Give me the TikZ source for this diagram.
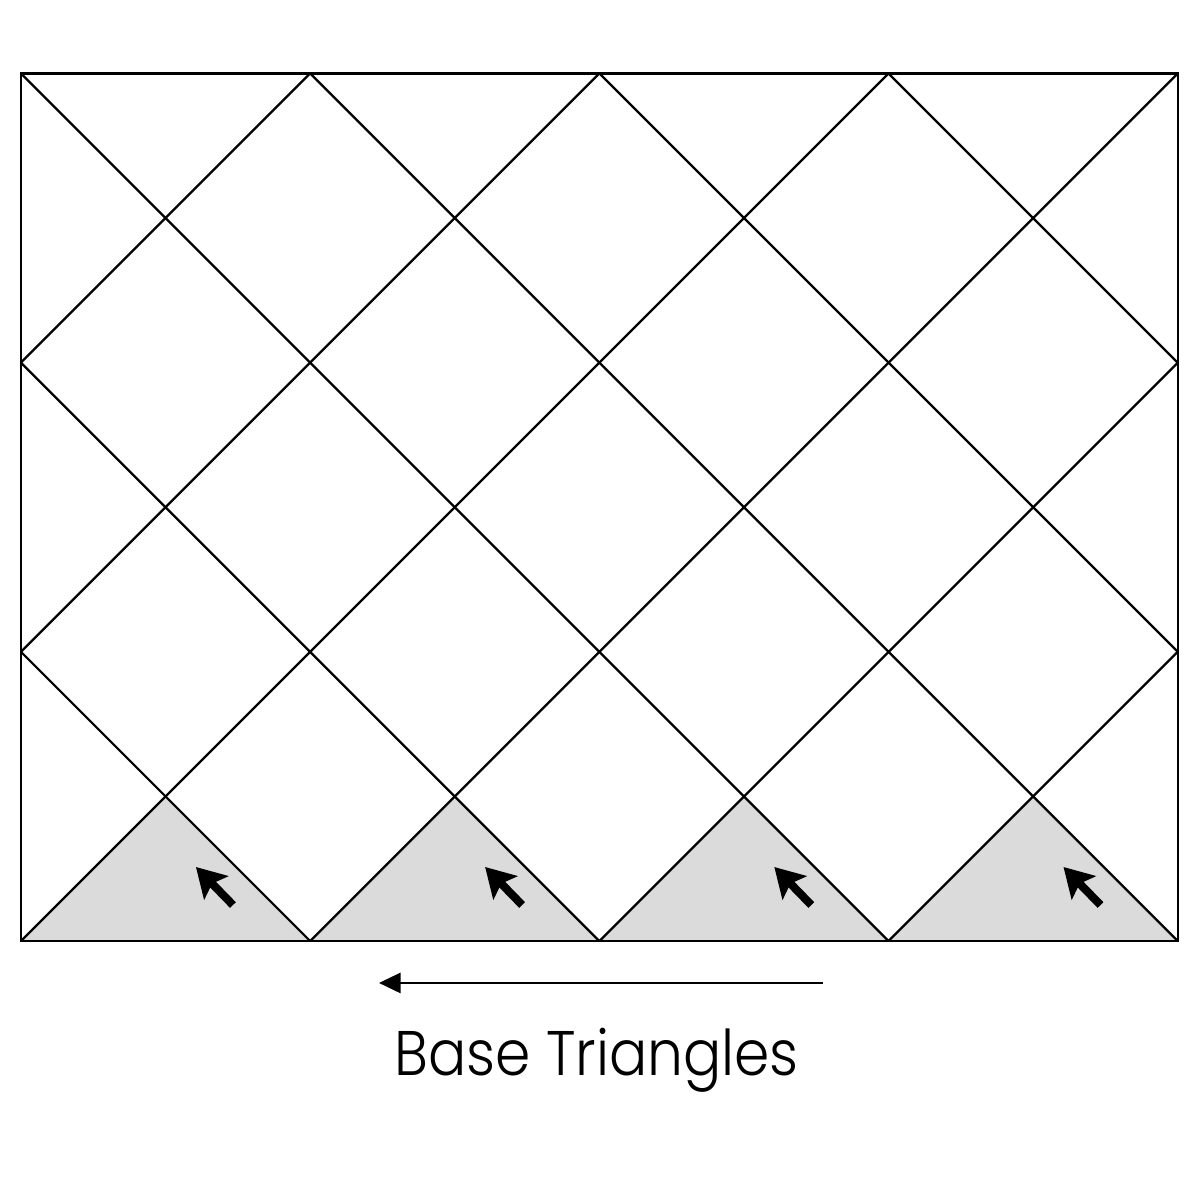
\documentclass[tikz,border=0pt]{standalone}
\usepackage{fontspec}
\setmainfont{Poppins}
\newfontfamily\captionfont{Poppins Light}[FakeStretch=0.9]
\usetikzlibrary{arrows.meta}

\begin{document}
\begin{tikzpicture}[
	grid line/.style={line width=0.45pt},
	base tri/.style={fill=black!14},
	up arrow/.style={
		-{Stealth[length=2mm,width=2.3mm,inset=0.4mm]},
		line width=1.6pt
	},
	base arrow/.style={
		-{Triangle[length=1.5mm,width=1.4mm]},
		line width=0.45pt
	},
	basetext/.style={font=\captionfont\fontsize{12.4}{15}\selectfont}
	]
	\useasboundingbox (-0.145,-1.791) rectangle (8.154,6.508);

	% shaded base triangles
	\foreach \i in {0,2,4,6} {
		\fill[base tri] (\i,0) -- ++(2,0) -- ++(-1,1) -- cycle;
		\coordinate (tail\i) at (\i+1.466,0.249);
		\coordinate (head\i) at (\i+1.21,0.512);
		\draw[up arrow] (tail\i) -- (head\i);
	}

	% diagonals
	\begin{scope}
		\clip (0,0) rectangle (8,6);
		\foreach \c in {-4,-2,...,6}
			\draw[grid line] (\c,0) -- ++(6,6);
		\foreach \c in {2,4,...,12}
			\draw[grid line] (\c,0) -- ++(-6,6);
	\end{scope}
	\draw[grid line] (0,0) rectangle (8,6);

	% direction arrow and caption
	\coordinate (from) at (5.546,-0.29);
	\coordinate (to) at (2.476,-0.29);
	\draw[base arrow] (from) -- (to);
	\node[basetext, anchor=base] (caption) at (3.98,-0.927) {Base Triangles};
\end{tikzpicture}
\end{document}
